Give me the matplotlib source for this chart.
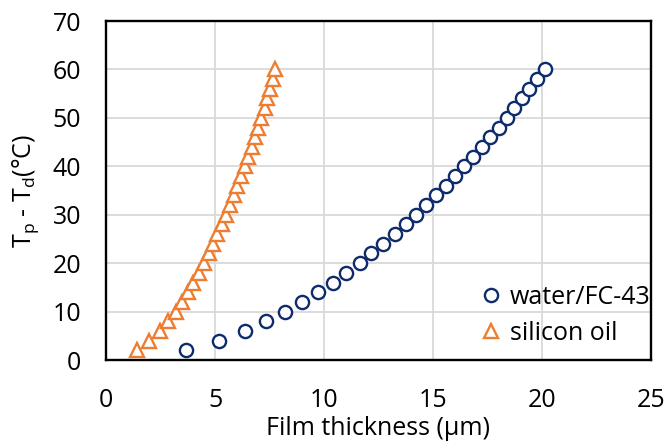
import matplotlib
matplotlib.use("Agg")
import matplotlib.pyplot as plt

plt.rcParams['font.family'] = ['Open Sans', 'DejaVu Sans']

temp_diff = [2, 4, 6, 8, 10, 12, 14, 16, 18, 20, 22, 24, 26, 28, 30,
             32, 34, 36, 38, 40, 42, 44, 46, 48, 50, 52, 54, 56, 58, 60]
water_fc43 = [3.67, 5.20, 6.36, 7.34, 8.21, 8.99, 9.72, 10.39, 11.0, 11.65,
              12.16, 12.69, 13.26, 13.76, 14.22, 14.68, 15.14, 15.60, 16.01, 16.42,
              16.82, 17.23, 17.61, 18.03, 18.38, 18.73, 19.07, 19.42, 19.78, 20.14]
silicon_oil = [1.41, 1.99, 2.48, 2.86, 3.21, 3.47, 3.75, 4.01, 4.25, 4.50,
               4.71, 4.92, 5.11, 5.32, 5.50, 5.69, 5.87, 6.02, 6.21, 6.36,
               6.51, 6.70, 6.85, 6.97, 7.13, 7.28, 7.40, 7.52, 7.65, 7.77]
x_ticks = [0, 5, 10, 15, 20, 25]
y_ticks = [0, 10, 20, 30, 40, 50, 60, 70]

navy = '#0E2C6B'
orange = '#ED7D31'
fs = 18

fig = plt.figure(figsize=(6.65, 4.44), dpi=100)
ax = fig.add_axes([106/665, 84/444, 545/665, 339/444])

ax.plot(water_fc43, temp_diff, linestyle='none', marker='o', markersize=9.5,
        markerfacecolor='white', markeredgecolor=navy, markeredgewidth=1.7,
        label='water/FC-43', zorder=3)
ax.plot(silicon_oil, temp_diff, linestyle='none', marker='^', markersize=10.5,
        markerfacecolor='white', markeredgecolor=orange, markeredgewidth=1.7,
        label='silicon oil', zorder=3)

ax.set_xlim(0, 25)
ax.set_ylim(0, 70)
ax.set_xticks(x_ticks)
ax.set_yticks(y_ticks)
ax.grid(True, color='#D9D9D9', linewidth=1.3)
ax.set_axisbelow(True)
for s in ax.spines.values():
    s.set_color('black')
    s.set_linewidth(1.7)
ax.tick_params(axis='both', length=0, labelsize=fs, colors='#000000')
ax.tick_params(axis='x', pad=20)
ax.tick_params(axis='y', pad=18)

ax.set_xlabel('Film thickness (μm)', fontsize=fs, labelpad=2)
ax.set_ylabel(r'T$_\mathregular{p}$ - T$_\mathregular{d}$(°C)', fontsize=fs, labelpad=8)

leg = ax.legend(loc='lower right', frameon=False, fontsize=fs, handletextpad=0.25,
                handlelength=1.0, borderaxespad=0.1, labelspacing=0.45,
                bbox_to_anchor=(1.022, 0.005))

fig.savefig('out.png', dpi=100)
